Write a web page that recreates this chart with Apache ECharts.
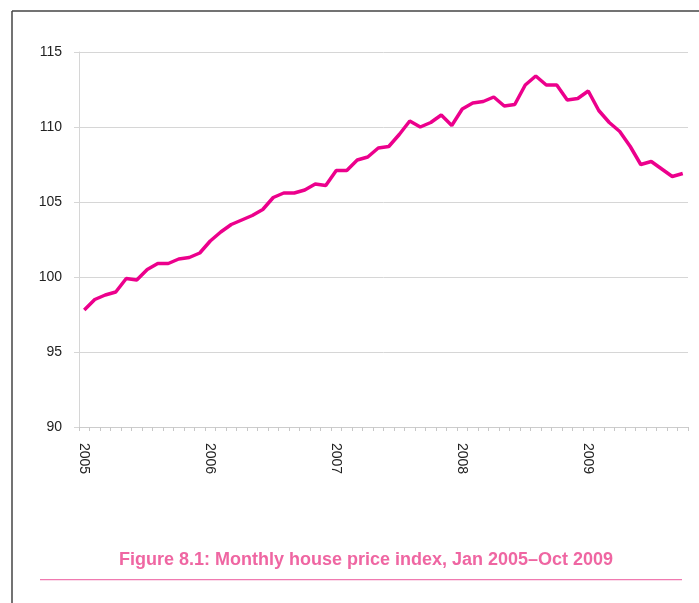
<!DOCTYPE html>
<html>
<head>
<meta charset="utf-8">
<script src="https://cdn.jsdelivr.net/npm/echarts@6/dist/echarts.min.js"></script>
<style>
  html, body { margin: 0; padding: 0; background: #fff; }
  #chart { width: 699px; height: 603px; }
</style>
</head>
<body>
<div id="chart"></div>
<script>
const years = ["2005", "2006", "2007", "2008", "2009"];
const months = ["Jan", "Feb", "Mar", "Apr", "May", "Jun", "Jul", "Aug", "Sep", "Oct", "Nov", "Dec"];
const yTicks = [90, 95, 100, 105, 110, 115];
// Jan 2005 .. Oct 2009
const priceIndex = [
  97.8, 98.5, 98.8, 99.0, 99.9, 99.8, 100.5, 100.9, 100.9, 101.2, 101.3, 101.6,
  102.4, 103.0, 103.5, 103.8, 104.1, 104.5, 105.3, 105.6, 105.6, 105.8, 106.2, 106.1,
  107.1, 107.1, 107.8, 108.0, 108.6, 108.7, 109.5, 110.4, 110.0, 110.3, 110.8, 110.1,
  111.2, 111.6, 111.7, 112.0, 111.4, 111.5, 112.8, 113.4, 112.8, 112.8, 111.8, 111.9,
  112.4, 111.1, 110.3, 109.7, 108.7, 107.5, 107.7, 107.2, 106.7, 106.9
];

const categories = [];
years.forEach((y) => months.forEach((m) => categories.push(m + " " + y)));
categories.length = priceIndex.length;

const font = '"Liberation Sans", Arial, sans-serif';
const chart = echarts.init(document.getElementById("chart"));
chart.setOption({
  animation: false,
  title: {
    text: "Figure 8.1: Monthly house price index, Jan 2005\u2013Oct 2009",
    left: 361,
    top: 546,
    textAlign: "center",
    textStyle: { color: "#ef66a2", fontSize: 18, fontWeight: "bold", fontFamily: font },
  },
  grid: { left: 79, right: 11, top: 52, bottom: 176 },
  xAxis: {
    type: "category",
    data: categories,
    boundaryGap: true,
    axisLine: { lineStyle: { color: "#cccccc", width: 1 } },
    axisTick: { show: true, interval: 0, length: 4, lineStyle: { color: "#c8c8c8" } },
    axisLabel: {
      interval: (idx) => idx % 12 === 0,
      formatter: (v) => v.split(" ")[1],
      rotate: -90,
      margin: 16,
      color: "#222",
      fontSize: 14,
      fontFamily: font,
    },
  },
  yAxis: {
    type: "value",
    min: yTicks[0],
    max: yTicks[yTicks.length - 1],
    interval: 5,
    axisLine: { show: true, lineStyle: { color: "#d6d6d6" } },
    axisTick: { show: true, length: 5, lineStyle: { color: "#d6d6d6" } },
    splitLine: { lineStyle: { color: "#d6d6d6", width: 1 } },
    axisLabel: { color: "#222", fontSize: 14, margin: 17, fontFamily: font },
  },
  series: [
    {
      type: "line",
      data: priceIndex,
      symbol: "none",
      lineStyle: { color: "#ec008c", width: 3.5 },
    },
  ],
  graphic: [
    { type: "line", shape: { x1: 12, y1: 11, x2: 699, y2: 11 }, style: { stroke: "#444", lineWidth: 1.5 } },
    { type: "line", shape: { x1: 12, y1: 11, x2: 12, y2: 603 }, style: { stroke: "#444", lineWidth: 1.5 } },
    { type: "rect", shape: { x: 40, y: 579, width: 642, height: 1.3 }, style: { fill: "#f07ab0" } },
  ],
});
</script>
</body>
</html>
